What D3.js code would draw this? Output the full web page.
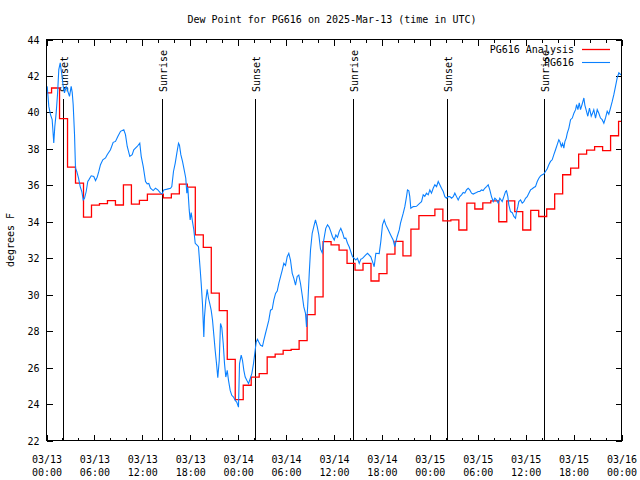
<!DOCTYPE html>
<html>
<head>
<meta charset="utf-8">
<script src="https://cdn.jsdelivr.net/npm/d3@7"></script>
<style>
html,body{margin:0;padding:0;background:#fff;}
text{font-family:"DejaVu Sans Mono",monospace;font-size:10px;fill:#000;}
</style>
</head>
<body>
<svg id="chart" width="640" height="480"></svg>
<script>
// ---------------- data ----------------
const chartTitle = "Dew Point for PG616 on 2025-Mar-13 (time in UTC)";
const yLabel = "degrees F";
const seriesNames = ["PG616 Analysis", "PG616"];
const yTicks = [22, 24, 26, 28, 30, 32, 34, 36, 38, 40, 42, 44];

// Analysis: hourly values, first step begins 2025-03-12 23:38 UTC
const redStartUTC = [2025, 2, 12, 23, 38];
const redValues = [41.07, 41.34, 39.66, 37.0, 36.12, 34.25, 34.91, 35.0, 35.16, 34.92,
  36.02, 34.97, 35.17, 35.52, 35.52, 35.31, 35.53, 36.07, 35.9, 33.28,
  32.6, 30.08, 29.12, 26.45, 24.24, 25.03, 25.48, 25.67, 26.58, 26.74,
  26.95, 27.0, 27.48, 28.91, 29.88, 32.91, 32.73, 32.45, 31.72, 31.35,
  31.72, 30.75, 31.16, 32.23, 32.92, 32.13, 33.6, 34.34, 34.34, 34.69,
  34.05, 34.1, 33.55, 35.02, 34.7, 35.04, 35.15, 34.0, 35.15, 34.56,
  33.55, 34.62, 34.29, 34.7, 35.53, 36.58, 36.94, 37.71, 37.93, 38.12,
  37.9, 38.72, 39.51];

// Observations: hours after 2025-03-13 00:00 UTC and values
const blueHours = [0.09,0.29,0.5,0.71,0.91,1.04,1.21,1.38,1.54,1.72,1.92,2.09,2.25,2.47,2.67,2.88,3.09,3.22,3.34,3.51,
3.63,3.79,4.01,4.22,4.42,4.6,4.76,4.97,5.17,5.3,5.6,5.92,6.14,6.35,6.55,6.76,7.05,7.39,7.6,8.01,
8.35,8.64,8.93,9.27,9.68,9.89,10.11,10.43,10.73,10.93,11.36,11.68,11.86,12.11,12.4,12.61,12.81,13.02,13.36,13.65,
13.94,14.28,14.49,14.69,15.11,15.53,15.69,15.9,16.12,16.32,16.53,16.65,16.82,17.03,17.24,17.44,17.57,17.69,17.87,17.99,
18.12,18.28,18.45,18.62,18.82,19.03,19.25,19.37,19.53,19.7,19.78,19.95,20.12,20.29,20.45,20.62,20.79,20.95,21.12,21.29,
21.45,21.63,21.79,21.95,22.13,22.29,22.45,22.63,22.79,23.0,23.2,23.42,23.63,23.83,24.04,24.17,24.38,24.54,24.71,24.88,
25.08,25.3,25.51,25.71,25.92,26.13,26.26,26.42,26.58,26.8,27.05,27.21,27.42,27.63,27.84,28.05,28.26,28.46,28.68,28.89,
29.09,29.3,29.52,29.72,29.93,30.14,30.34,30.55,30.77,30.97,31.18,31.39,31.59,31.81,32.02,32.22,32.43,32.56,32.72,32.9,
33.06,33.27,33.47,33.68,33.9,34.1,34.31,34.52,34.72,34.97,35.19,35.4,35.6,35.81,36.03,36.23,36.44,36.65,36.85,37.07,
37.28,37.48,37.69,37.9,38.1,38.32,38.53,38.73,38.94,39.16,39.36,39.57,39.98,40.2,40.61,40.82,41.03,41.24,41.66,41.86,
42.07,42.29,42.49,42.7,42.99,43.2,43.41,43.61,43.91,44.17,44.33,44.49,44.67,44.87,45.08,45.2,45.37,45.49,45.62,45.92,
46.33,46.75,46.96,47.17,47.37,47.58,47.8,48.0,48.21,48.42,48.63,48.84,49.05,49.25,49.46,49.68,49.88,50.09,50.3,50.5,
50.72,50.93,51.13,51.34,51.55,51.75,51.97,52.18,52.38,52.59,52.8,53.0,53.22,53.43,53.63,53.84,54.06,54.26,54.47,54.68,
54.88,55.1,55.31,55.51,55.72,55.94,56.14,56.35,56.56,56.76,57.06,57.27,57.48,57.6,57.77,57.89,58.1,58.32,58.52,58.73,
58.86,59.02,59.14,59.36,59.57,59.77,59.98,60.19,60.4,60.61,60.82,61.02,61.23,61.45,61.65,61.86,62.07,62.27,62.48,62.7,
62.9,63.11,63.32,63.53,63.74,63.95,64.15,64.28,64.46,64.62,64.78,64.91,65.08,65.21,65.41,65.62,65.84,66.04,66.25,66.38,
66.54,66.71,66.87,67.08,67.29,67.41,67.62,67.78,67.99,68.21,68.37,68.53,68.75,68.96,69.16,69.37,69.58,69.79,70.0,70.21,
70.41,70.62,70.84,71.04,71.25,71.46,71.67,71.88,72.0];
const blueValues = [41.43,40.33,39.88,39.6,38.32,39.23,39.96,41.0,42.35,42.72,42.08,41.43,41.07,41.4,41.16,40.88,41.43,41.1,40.43,38.78,
36.94,36.76,36.39,35.93,35.66,35.2,35.29,35.66,36.21,36.3,36.52,36.48,36.26,36.45,36.76,37.13,37.4,37.5,37.68,37.95,
38.36,38.41,38.68,38.96,39.05,38.78,38.13,37.59,37.68,37.95,38.13,38.31,37.59,37.04,36.21,36.08,36.1,35.84,35.71,35.84,
35.75,35.57,35.53,35.75,35.79,35.84,35.93,36.76,37.22,37.77,38.31,38.2,37.68,37.31,36.85,36.39,35.57,35.9,34.65,34.1,
34.5,34.01,33.55,32.82,32.73,32.63,31.35,30.62,29.52,27.68,28.78,29.7,30.29,29.79,29.5,29.15,28.6,27.8,26.95,26.22,
25.45,26.4,28.42,28.2,27.32,26.22,25.48,25.85,25.3,24.75,24.48,24.38,24.2,24.1,23.83,26.22,26.68,26.4,25.85,25.48,
25.3,25.12,25.4,25.67,26.22,26.95,27.41,27.55,27.4,27.22,27.17,27.5,27.87,28.23,28.6,29.15,29.2,29.7,30.07,30.2,
30.62,30.98,31.35,31.72,31.6,32.08,32.27,31.9,31.17,30.89,30.53,31.0,31.08,30.6,29.97,29.33,28.97,28.23,29.52,31.17,
32.45,33.37,33.73,34.1,33.73,33.28,32.5,32.3,33.0,33.64,33.83,33.7,33.46,33.18,33.0,33.28,33.15,33.46,33.64,33.4,
33.09,33.1,32.82,32.63,32.36,32.08,31.99,31.9,32.0,31.72,31.95,31.99,32.18,32.27,32.08,31.81,31.53,32.27,32.25,32.91,
33.83,34.1,33.83,33.64,33.37,33.18,33.0,32.63,33.18,33.55,33.92,34.19,34.47,34.83,35.38,35.75,35.7,35.38,34.74,34.83,
34.85,35.02,35.1,35.48,35.4,35.57,35.48,35.75,35.57,35.84,36.03,35.93,36.21,36.03,35.84,35.66,35.38,35.29,35.38,35.38,
35.29,35.38,35.57,35.38,35.2,35.38,35.48,35.61,35.57,35.75,35.84,35.75,35.57,35.52,35.57,35.61,35.66,35.66,35.75,35.71,
35.84,35.93,36.03,35.75,35.38,35.11,35.29,35.2,35.02,35.29,35.11,35.38,35.66,35.7,35.38,34.93,34.56,34.5,34.29,34.19,
34.56,34.83,35.11,35.2,35.02,35.1,35.29,35.38,35.57,35.75,35.81,35.88,35.93,36.21,36.39,36.52,36.58,36.62,36.76,36.91,
37.13,37.31,37.4,37.68,37.95,38.23,38.5,38.4,38.13,38.3,38.04,38.4,38.59,38.86,39.14,39.6,39.69,39.96,40.15,40.43,
40.15,40.52,40.15,40.46,40.79,40.4,40.06,39.79,40.24,39.79,39.95,40.15,39.69,40.15,39.95,39.69,39.6,39.41,39.7,40.06,
39.9,40.24,40.6,40.97,41.43,41.89,42.17,42.08,42.05];

// Sunrise / sunset events (UTC)
const sunLabels = ["Sunset", "Sunrise", "Sunset", "Sunrise", "Sunset", "Sunrise"];
const sunTimesUTC = [[2025,2,13,2,10],[2025,2,13,14,34],[2025,2,14,2,13],[2025,2,14,14,29],[2025,2,15,2,15],[2025,2,15,14,24]];

// ---------------- chart ----------------
const svg = d3.select("#chart");
const t0 = new Date(Date.UTC(2025, 2, 13));
const t1 = new Date(Date.UTC(2025, 2, 16));
const x = d3.scaleUtc().domain([t0, t1]).range([46.5, 621.5]);
const y = d3.scaleLinear().domain([22, 44]).range([440.5, 39.5]);
const HOUR = 3600e3;

const redStart = Date.UTC(...redStartUTC);
const redData = redValues.map((v, k) => ({t: new Date(redStart + k * HOUR), v}));
redData.push({t: new Date(redStart + redValues.length * HOUR), v: redValues[redValues.length - 1]});
const blueData = blueHours.map((h, i) => ({t: new Date(t0.getTime() + h * HOUR), v: blueValues[i]}));

svg.append("defs").append("clipPath").attr("id", "plotclip")
  .append("rect").attr("x", 46.5).attr("y", 39.5).attr("width", 575).attr("height", 401);

// sun lines
const sunG = svg.append("g");
sunTimesUTC.forEach((a, i) => {
  const sx = Math.floor(x(new Date(Date.UTC(...a)))) + 0.5;
  sunG.append("line").attr("x1", sx).attr("x2", sx).attr("y1", 99).attr("y2", 440.5)
    .attr("stroke", "#000").attr("stroke-width", 1).attr("shape-rendering", "crispEdges");
  sunG.append("text").attr("transform", `translate(${sx + 4},92) rotate(-90)`)
    .attr("text-anchor", "start").text(sunLabels[i]);
});

// axes
const majorTicks = d3.utcHour.every(6).range(t0, new Date(t1.getTime() + 1));
const minorTicks = d3.utcHour.every(2).range(t0, new Date(t1.getTime() + 1));

function styleAxis(g) {
  g.selectAll("path.domain").remove();
  g.selectAll("line").attr("stroke", "#000").attr("shape-rendering", "crispEdges");
}
svg.append("g").attr("transform", "translate(0,440.5)")
  .call(d3.axisBottom(x).tickValues(minorTicks).tickSize(-3).tickFormat(""))
  .call(styleAxis).selectAll("text").remove();
svg.append("g").attr("transform", "translate(0,39.5)")
  .call(d3.axisTop(x).tickValues(minorTicks).tickSize(-3).tickFormat(""))
  .call(styleAxis).selectAll("text").remove();
svg.append("g").attr("transform", "translate(0,39.5)")
  .call(d3.axisTop(x).tickValues(majorTicks).tickSize(-6).tickFormat(""))
  .call(styleAxis).selectAll("text").remove();

const xAxisG = svg.append("g").attr("transform", "translate(0,440.5)")
  .call(d3.axisBottom(x).tickValues(majorTicks).tickSize(-6).tickFormat(""))
  .call(styleAxis);
xAxisG.selectAll("text").remove();
const fmtD = d3.utcFormat("%m/%d"), fmtH = d3.utcFormat("%H:%M");
xAxisG.selectAll(".tick").append("text")
  .attr("text-anchor", "middle").attr("y", 0).attr("fill", "#000")
  .style("font-family", '"DejaVu Sans Mono",monospace').style("font-size", "10px")
  .each(function(d) {
    const t = d3.select(this);
    t.append("tspan").attr("x", 0).attr("y", 22).text(fmtD(d));
    t.append("tspan").attr("x", 0).attr("y", 35.5).text(fmtH(d));
  });

const yAxisG = svg.append("g").attr("transform", "translate(46.5,0)")
  .call(d3.axisLeft(y).tickValues(yTicks).tickSize(-6).tickPadding(7).tickFormat(d3.format("d")))
  .call(styleAxis);
yAxisG.selectAll("text").attr("x", -7).attr("dy", "0.35em")
  .style("font-family", '"DejaVu Sans Mono",monospace').style("font-size", "10px").attr("fill", "#000");
svg.append("g").attr("transform", "translate(621.5,0)")
  .call(d3.axisRight(y).tickValues(yTicks).tickSize(-6).tickFormat(""))
  .call(styleAxis).selectAll("text").remove();

// data lines
const plotG = svg.append("g").attr("clip-path", "url(#plotclip)");
plotG.append("path").datum(redData)
  .attr("fill", "none").attr("stroke", "#ff0000").attr("stroke-width", 1.3)
  .attr("d", d3.line().x(d => x(d.t)).y(d => y(d.v)).curve(d3.curveStepAfter));
plotG.append("path").datum(blueData)
  .attr("fill", "none").attr("stroke", "#0a80ff").attr("stroke-width", 1.1)
  .attr("d", d3.line().x(d => x(d.t)).y(d => y(d.v)));

// frame
svg.append("rect").attr("x", 46.5).attr("y", 39.5).attr("width", 575).attr("height", 401)
  .attr("fill", "none").attr("stroke", "#000").attr("shape-rendering", "crispEdges");

// title & labels
svg.append("text").attr("x", 332).attr("y", 23).attr("text-anchor", "middle").text(chartTitle);
svg.append("text").attr("transform", "translate(13.5,240) rotate(-90)")
  .attr("text-anchor", "middle").text(yLabel);

// legend
const legColors = ["#ff0000", "#0a80ff"];
seriesNames.forEach((n, i) => {
  const ly = 49.5 + i * 13;
  svg.append("text").attr("x", 574).attr("y", ly).attr("dy", "0.35em")
    .attr("text-anchor", "end").text(n);
  svg.append("line").attr("x1", 582).attr("x2", 610).attr("y1", ly).attr("y2", ly)
    .attr("stroke", legColors[i]).attr("stroke-width", i === 0 ? 1.3 : 1.1);
});
</script>
</body>
</html>
